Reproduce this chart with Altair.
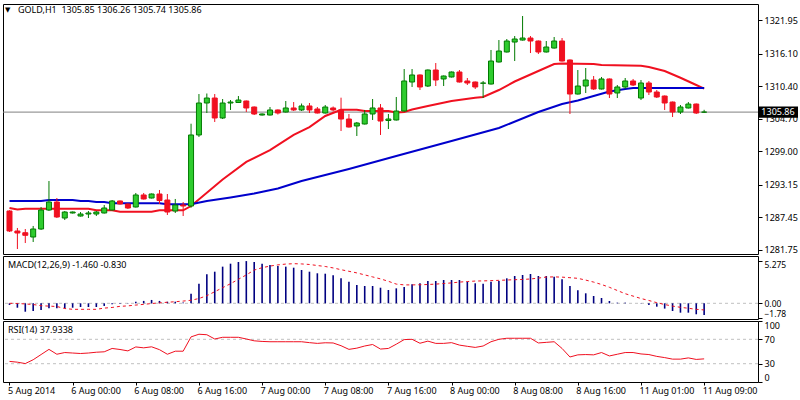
import altair as alt
import pandas as pd

# ---------------- data ----------------
symbol = "GOLD,H1"
open_ = [1288.57, 1285.07, 1284.77, 1284.02, 1285.42, 1288.74, 1290.14, 1287.34, 1288.22, 1287.69,
         1288.04, 1288.04, 1288.22, 1288.74, 1290.32, 1289.79, 1289.27, 1291.37, 1290.84, 1291.54,
         1290.49, 1288.57, 1289.62, 1289.44, 1301.86, 1307.45, 1308.32, 1304.83, 1307.45, 1307.54,
         1307.80, 1306.75, 1305.35, 1305.35, 1306.23, 1305.88, 1306.58, 1306.23, 1306.93, 1306.40,
         1305.70, 1306.58, 1306.23, 1304.65, 1303.43, 1303.78, 1305.53, 1306.58, 1304.39, 1304.48,
         1306.05, 1311.12, 1312.35, 1310.42, 1313.22, 1311.65, 1312.00, 1312.87, 1311.30, 1311.12,
         1310.90, 1310.77, 1314.62, 1316.37, 1318.11, 1318.46, 1318.81, 1318.29, 1316.37, 1317.06,
         1318.29, 1314.97, 1309.02, 1310.42, 1311.47, 1309.90, 1311.65, 1309.20, 1310.25, 1311.30,
         1308.32, 1310.95, 1309.37, 1308.67, 1307.62, 1305.88, 1306.58, 1307.27, 1305.85]
high = [1288.70, 1285.60, 1285.42, 1285.95, 1289.27, 1293.81, 1290.84, 1288.57, 1288.48, 1288.39,
        1288.57, 1288.57, 1289.62, 1290.49, 1290.40, 1289.88, 1291.72, 1291.72, 1291.63, 1292.24,
        1291.54, 1290.67, 1290.14, 1303.83, 1309.02, 1309.11, 1309.02, 1308.15, 1307.97, 1308.67,
        1307.88, 1306.84, 1305.62, 1306.75, 1306.32, 1307.80, 1307.62, 1307.36, 1307.45, 1306.75,
        1307.10, 1306.84, 1308.38, 1305.53, 1304.13, 1306.23, 1308.15, 1307.27, 1305.53, 1308.50,
        1313.39, 1313.39, 1312.44, 1313.31, 1314.44, 1312.26, 1312.96, 1313.22, 1311.82, 1311.21,
        1311.30, 1316.72, 1318.46, 1318.64, 1319.16, 1322.66, 1319.16, 1318.38, 1318.29, 1318.99,
        1318.81, 1315.06, 1313.22, 1313.57, 1312.17, 1312.00, 1311.74, 1310.60, 1311.82, 1311.65,
        1311.47, 1311.30, 1309.72, 1308.76, 1307.71, 1307.10, 1307.62, 1307.36, 1306.26]
low = [1284.90, 1281.92, 1282.97, 1283.15, 1285.25, 1288.57, 1287.34, 1286.99, 1288.13, 1287.60,
       1287.34, 1287.69, 1288.13, 1288.66, 1289.70, 1288.92, 1289.18, 1290.58, 1290.76, 1289.79,
       1287.87, 1288.22, 1287.69, 1289.15, 1301.51, 1305.70, 1304.13, 1304.65, 1306.23, 1307.45,
       1305.88, 1305.35, 1305.26, 1305.26, 1305.44, 1305.79, 1306.05, 1306.05, 1305.70, 1305.62,
       1305.62, 1305.97, 1302.55, 1303.16, 1301.68, 1303.69, 1304.48, 1301.86, 1302.90, 1304.39,
       1305.97, 1310.25, 1309.72, 1310.25, 1310.42, 1310.42, 1311.91, 1311.03, 1310.60, 1309.90,
       1308.32, 1310.68, 1314.53, 1316.28, 1314.79, 1318.37, 1316.19, 1316.02, 1316.28, 1316.97,
       1314.70, 1305.53, 1308.93, 1309.20, 1309.72, 1309.81, 1308.32, 1308.32, 1309.90, 1310.42,
       1307.97, 1308.85, 1308.32, 1306.23, 1305.00, 1305.53, 1306.49, 1305.53, 1305.74]
close = [1285.07, 1284.72, 1284.32, 1285.42, 1288.74, 1290.14, 1287.52, 1288.39, 1288.39, 1288.04,
         1288.22, 1288.39, 1289.09, 1290.32, 1289.79, 1289.09, 1291.37, 1290.67, 1291.54, 1290.40,
         1288.39, 1289.62, 1289.44, 1301.86, 1307.45, 1308.32, 1304.83, 1307.45, 1307.62, 1307.97,
         1306.58, 1305.53, 1305.53, 1306.23, 1305.70, 1306.58, 1306.23, 1306.93, 1306.23, 1305.70,
         1306.75, 1306.23, 1304.65, 1303.25, 1303.95, 1305.53, 1306.58, 1304.30, 1304.65, 1306.05,
         1311.30, 1312.35, 1310.25, 1313.22, 1311.47, 1312.17, 1312.87, 1311.12, 1310.95, 1310.25,
         1310.95, 1314.79, 1316.54, 1318.29, 1318.64, 1318.81, 1318.29, 1316.37, 1317.24, 1318.29,
         1314.79, 1309.02, 1310.42, 1311.47, 1309.90, 1311.65, 1309.02, 1310.25, 1311.30, 1310.60,
         1310.95, 1309.37, 1308.50, 1307.45, 1305.88, 1306.75, 1307.27, 1305.70, 1305.86]

red_ma_idx = [0, 1, 2, 10, 11, 13, 14, 18, 19, 22, 23, 27, 30, 33, 36, 38, 40, 42, 44, 45, 48, 49, 50,
              51, 53, 56, 59, 60, 62, 64, 67, 69, 70, 74, 75, 80, 81, 83, 85, 87, 88]
red_ma_val = [1289.09, 1288.83, 1288.97, 1288.97, 1288.69, 1288.69, 1288.45, 1288.45, 1288.69, 1288.69,
              1289.44, 1294.08, 1297.14, 1299.23, 1301.86, 1303.25, 1305.18, 1306.28, 1306.28, 1306.05,
              1306.05, 1305.79, 1305.88, 1306.31, 1306.93, 1307.80, 1308.38, 1308.50, 1309.72, 1311.21,
              1313.04, 1314.27, 1314.36, 1314.27, 1314.09, 1313.97, 1313.74, 1313.04, 1311.87, 1310.60,
              1309.95]
blue_ma_idx = [0, 4, 5, 8, 9, 10, 11, 12, 13, 19, 20, 23, 25, 28, 31, 34, 37, 43, 49, 56, 62, 67, 70,
               72, 74, 76, 78, 79, 88]
blue_ma_val = [1290.32, 1290.32, 1290.49, 1290.49, 1290.32, 1290.32, 1290.14, 1290.14, 1289.91, 1289.91,
               1289.74, 1289.74, 1290.32, 1290.93, 1291.63, 1292.50, 1293.81, 1295.91, 1298.18, 1300.81,
               1303.08, 1305.88, 1307.28, 1307.89, 1308.67, 1309.46, 1309.90, 1310.07, 1310.07]

macd_main = [-0.2, -0.55, -1.05, -0.96, -0.84, -0.63, -0.63, -0.63, -0.55, -0.46, -0.46, -0.46, -0.33,
             -0.13, -0.04, 0.05, 0.2, 0.3, 0.42, 0.3, 0.2, 0.2, 0.1, 1.2, 2.45, 3.62, 3.95, 4.58, 4.95,
             5.16, 5.275, 5.16, 4.95, 4.79, 4.66, 4.58, 4.45, 4.16, 3.95, 3.75, 3.7, 3.5, 3.12, 2.7,
             2.29, 2.16, 2.16, 1.95, 1.66, 1.87, 2.04, 2.37, 2.5, 2.79, 2.79, 2.91, 2.91, 2.91, 2.7,
             2.5, 2.45, 2.7, 2.79, 3.12, 3.41, 3.54, 3.66, 3.41, 3.41, 3.33, 3.0, 2.16, 1.62, 1.25,
             0.91, 0.66, 0.29, 0.08, 0.08, 0.02, 0.05, -0.2, -0.42, -0.66, -0.96, -1.17, -1.17, -1.37,
             -1.46]
macd_signal = [0.0, -0.02, -0.08, -0.15, -0.3, -0.35, -0.4, -0.65, -0.75, -0.75, -0.75, -0.75, -0.6,
               -0.52, -0.38, -0.32, -0.22, -0.13, -0.03, 0.06, 0.13, 0.2, 0.28, 0.38, 0.6, 0.95, 1.45,
               1.95, 2.45, 3.0, 3.55, 4.15, 4.45, 4.65, 4.8, 4.9, 4.95, 4.92, 4.85, 4.72, 4.6, 4.42,
               4.2, 4.0, 3.8, 3.55, 3.3, 3.05, 2.75, 2.4, 2.3, 2.3, 2.32, 2.35, 2.4, 2.47, 2.55, 2.65,
               2.72, 2.78, 2.8, 2.83, 2.87, 2.91, 2.95, 2.98, 3.04, 3.15, 3.28, 3.3, 3.27, 3.2, 3.12,
               2.9, 2.65, 2.35, 2.0, 1.6, 1.2, 0.9, 0.6, 0.35, 0.08, -0.15, -0.35, -0.5, -0.62, -0.75,
               -0.83]
rsi = [33.8, 32.5, 30.2, 36.5, 45, 53.5, 45.5, 48.3, 47.5, 46.7, 47.5, 48.8, 49.5, 55, 53.3, 51, 57.5,
       56, 57.7, 53, 45.5, 50.5, 50.5, 74, 78.3, 77.5, 70.5, 73.3, 73.3, 73.3, 70.5, 67.5, 66.5, 66, 66,
       66, 66, 66, 64.5, 63.3, 64.3, 64, 59.5, 53.5, 55.5, 59, 61.5, 54, 55, 62, 69.5, 70, 63.5, 67,
       63.3, 63.3, 64.5, 60.5, 58.5, 56.7, 59, 66, 70, 71.7, 71.7, 71.7, 71.7, 64, 65, 66, 55, 41, 44.5,
       45, 44.5, 48.3, 42.7, 45.5, 48.3, 48.3, 46, 45, 42, 40, 37.5, 37.5, 39.5, 37, 37.9338]

price_ticks = [1321.95, 1316.10, 1310.40, 1304.70, 1299.00, 1293.15, 1287.45, 1281.75]
macd_ticks = [5.275, 0.0, -1.78]
rsi_ticks = [100, 70, 30, 0]
rsi_levels = [70, 30]
time_tick_idx = [0, 8, 16, 24, 32, 40, 48, 56, 64, 72, 80, 88]
time_tick_labels = ["5 Aug 2014", "6 Aug 00:00", "6 Aug 08:00", "6 Aug 16:00", "7 Aug 00:00",
                    "7 Aug 08:00", "7 Aug 16:00", "8 Aug 00:00", "8 Aug 08:00", "8 Aug 16:00",
                    "11 Aug 01:00", "11 Aug 09:00"]

# ---------------- tables ----------------
n = len(close)
idx = list(range(n))
candles = pd.DataFrame({"i": idx, "open": open_, "high": high, "low": low, "close": close})
candles["dir"] = ["up" if c >= o else "down" for o, c in zip(open_, close)]
red_ma = pd.DataFrame({"i": red_ma_idx, "v": red_ma_val})
blue_ma = pd.DataFrame({"i": blue_ma_idx, "v": blue_ma_val})
ind = pd.DataFrame({"i": idx, "macd": macd_main, "sig": macd_signal, "rsi": rsi})
last = pd.DataFrame({"p": [close[-1]]})

header = f"{symbol}\u00a0\u00a0{open_[-1]:.2f} {high[-1]:.2f} {low[-1]:.2f} {close[-1]:.2f}"
macd_title = f"MACD(12,26,9) {macd_main[-1]:.3f} {macd_signal[-1]:.3f}"
rsi_title = f"RSI(14) {rsi[-1]:.4f}"

# ---------------- styling ----------------
FONT = "Noto Sans"
FS = 9
W = 755
H_MAIN, H_MACD, H_RSI = 250, 63, 61
GREEN_FILL = "#2ecc2e"
GREEN_EDGE = "#007a00"
RED = "#f01020"
BLUE = "#0000cc"
NAVY = "#000080"
GRID = "#c0c0c0"

xs = alt.Scale(domain=[-0.19, 94.19], nice=False, zero=False)
x_none = alt.X("i:Q", scale=xs, axis=None)
ys_main = alt.Scale(domain=[1281.05, 1324.76], nice=False, zero=False)
ys_macd = alt.Scale(domain=[-1.96, 5.91], nice=False, zero=False)
ys_rsi = alt.Scale(domain=[0, 100], nice=False, zero=False)

ax = dict(orient="right", domain=False, ticks=True, tickColor="black", tickSize=4,
          labelColor="black", labelFont=FONT, labelPadding=2,
          grid=False, title=None, zindex=0, labelOverlap=False, labelBound=False)
ax_main = alt.Axis(values=price_ticks, format=".2f", labelFlush=False, labelFontSize=FS, **ax)
ax_macd = alt.Axis(values=macd_ticks, labelFlush=6, labelFlushOffset=1, labelFontSize=8.5,
                   labelExpr="datum.value == 5.275 ? '5.275' : format(datum.value, '.2f')", **ax)
ax_rsi = alt.Axis(values=rsi_ticks, labelFlush=True, labelFontSize=FS, **ax)

dir_dom = ["up", "down"]
stroke_scale = alt.Scale(domain=dir_dom, range=[GREEN_EDGE, RED])
fill_scale = alt.Scale(domain=dir_dom, range=[GREEN_FILL, RED])

# ---------------- main panel ----------------
price_line = alt.Chart(last).mark_rule(color="#808080", strokeWidth=1).encode(
    y=alt.Y("p:Q", scale=ys_main, axis=ax_main))
wicks = alt.Chart(candles).mark_rule(strokeWidth=1).encode(
    x=x_none, y=alt.Y("low:Q", scale=ys_main, axis=ax_main), y2="high:Q",
    stroke=alt.Stroke("dir:N", scale=stroke_scale, legend=None))
bodies = alt.Chart(candles).mark_bar(size=5, strokeWidth=1).encode(
    x=x_none, y=alt.Y("open:Q", scale=ys_main, axis=ax_main), y2="close:Q",
    fill=alt.Fill("dir:N", scale=fill_scale, legend=None),
    stroke=alt.Stroke("dir:N", scale=stroke_scale, legend=None))
red_line = alt.Chart(red_ma).mark_line(color=RED, strokeWidth=2).encode(
    x=x_none, y=alt.Y("v:Q", scale=ys_main, axis=ax_main))
blue_line = alt.Chart(blue_ma).mark_line(color=BLUE, strokeWidth=2).encode(
    x=x_none, y=alt.Y("v:Q", scale=ys_main, axis=ax_main))
box = alt.Chart(last).mark_point(shape="M-1,-0.28L1,-0.28L1,0.28L-1,0.28Z", size=1600,
                                 filled=True, fill="black", opacity=1, strokeWidth=0).encode(
    x=alt.value(W + 20), y=alt.Y("p:Q", scale=ys_main, axis=ax_main))
box_txt = alt.Chart(last).mark_text(font=FONT, fontSize=FS, color="white", align="center",
                                    baseline="middle").encode(
    x=alt.value(W + 20), y=alt.Y("p:Q", scale=ys_main, axis=ax_main),
    text=alt.Text("p:Q", format=".2f"))
tri = alt.Chart(pd.DataFrame({"t": ["\u25bc"]})).mark_text(
    font="DejaVu Sans", fontSize=7, color="black", align="left", baseline="middle").encode(
    x=alt.value(2), y=alt.value(6), text="t:N")
head = alt.Chart(pd.DataFrame({"t": [header]})).mark_text(
    font=FONT, fontSize=FS, color="black", align="left", baseline="middle").encode(
    x=alt.value(15), y=alt.value(6), text="t:N")

main = alt.layer(price_line, red_line, blue_line, wicks, bodies, box, box_txt, tri, head).properties(
    width=W, height=H_MAIN)

# ---------------- MACD panel ----------------
zero_line = alt.Chart(pd.DataFrame({"z": [0.0]})).mark_rule(
    color=GRID, strokeDash=[3, 3], strokeWidth=1).encode(
    y=alt.Y("z:Q", scale=ys_macd, axis=ax_macd))
hist = alt.Chart(ind).mark_rule(color=NAVY, strokeWidth=1.6).encode(
    x=x_none, y=alt.Y("macd:Q", scale=ys_macd, axis=ax_macd), y2=alt.Y2Datum(0))
sig = alt.Chart(ind).mark_line(color=RED, strokeWidth=1, strokeDash=[3, 3]).encode(
    x=x_none, y=alt.Y("sig:Q", scale=ys_macd, axis=ax_macd))
macd_lbl = alt.Chart(pd.DataFrame({"t": [macd_title]})).mark_text(
    font=FONT, fontSize=FS, color="black", align="left", baseline="middle").encode(
    x=alt.value(5), y=alt.value(9), text="t:N")
macd = alt.layer(zero_line, hist, sig, macd_lbl).properties(width=W, height=H_MACD)

# ---------------- RSI panel ----------------
labels_js = "[" + ",".join(f"'{s}'" for s in time_tick_labels) + "]"
idx_js = "[" + ",".join(str(v) for v in time_tick_idx) + "]"
x_time = alt.X("i:Q", scale=xs,
               axis=alt.Axis(values=time_tick_idx,
                             labelExpr=f"{labels_js}[indexof({idx_js}, datum.value)]",
                             orient="bottom", domain=False, ticks=True, tickColor="black", tickSize=3,
                             labelColor="black", labelFont=FONT, labelFontSize=FS, labelAlign="left",
                             labelPadding=1, labelOffset=-2, labelFlush=False, labelOverlap=False,
                             labelBound=False, grid=False, title=None))
levels = alt.Chart(pd.DataFrame({"lv": rsi_levels})).mark_rule(
    color=GRID, strokeDash=[3, 3], strokeWidth=1).encode(
    y=alt.Y("lv:Q", scale=ys_rsi, axis=ax_rsi))
rsi_line = alt.Chart(ind).mark_line(color=RED, strokeWidth=1).encode(
    x=x_time, y=alt.Y("rsi:Q", scale=ys_rsi, axis=ax_rsi))
rsi_lbl = alt.Chart(pd.DataFrame({"t": [rsi_title]})).mark_text(
    font=FONT, fontSize=FS, color="black", align="left", baseline="middle").encode(
    x=alt.value(5), y=alt.value(9), text="t:N")
rsi_panel = alt.layer(levels, rsi_line, rsi_lbl).properties(width=W, height=H_RSI)

chart = alt.vconcat(main, macd, rsi_panel, spacing=2, bounds="flush").resolve_scale(
    x="shared").properties(
    padding={"left": 2, "top": 3, "right": 0, "bottom": 0},
    background="white",
).configure_view(stroke="black", strokeWidth=1).configure_concat(spacing=2)

chart.save("out.html", embed_options={"renderer": "svg", "actions": False})
